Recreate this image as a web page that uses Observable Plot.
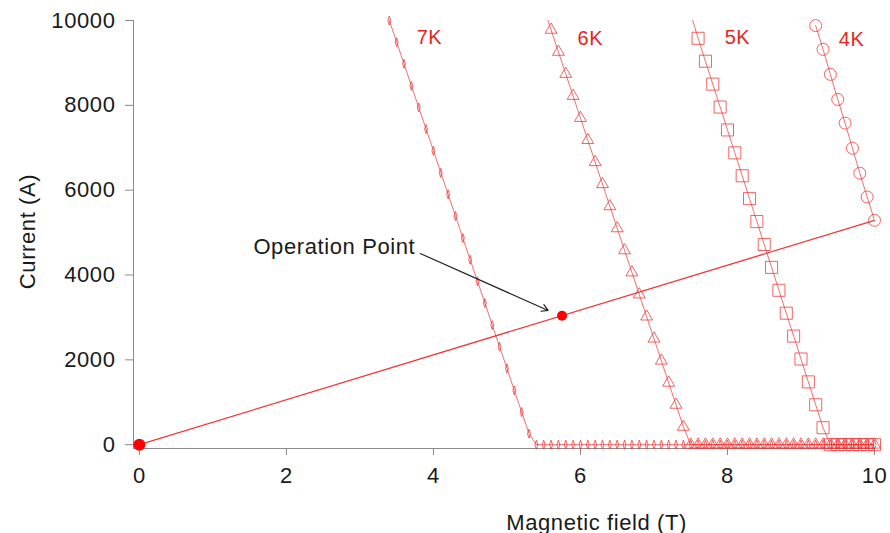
<!DOCTYPE html>
<html><head><meta charset="utf-8">
<script src="https://cdn.jsdelivr.net/npm/d3@7"></script>
<script src="https://cdn.jsdelivr.net/npm/@observablehq/plot@0.6"></script>
<style>html,body{margin:0;padding:0;background:#fff;} svg{display:block}</style>
</head><body><div id="chart"></div>
<script>
// ---- data ----
const b7 = [3.4,3.5,3.6,3.7,3.8,3.9,4.0,4.1,4.2,4.3,4.4,4.5,4.6,4.7,4.8,4.9,5.0,5.1,5.2,5.3,5.4,5.5,5.6,5.7,5.8,5.9,6.0,6.1,6.2,6.3,6.4,6.5,6.6,6.7,6.8,6.9,7.0,7.1,7.2,7.3,7.4,7.5,7.6,7.7,7.8,7.9,8.0,8.1,8.2,8.3,8.4,8.5,8.6,8.7,8.8,8.9,9.0,9.1,9.2,9.3,9.4,9.5,9.6,9.7,9.8,9.9,10.0];
const i7 = [10000,9490,8980,8460,7950,7440,6930,6410,5900,5390,4870,4360,3850,3340,2820,2310,1800,1280,770,260,0,0,0,0,0,0,0,0,0,0,0,0,0,0,0,0,0,0,0,0,0,0,0,0,0,0,0,0,0,0,0,0,0,0,0,0,0,0,0,0,0,0,0,0,0,0,0];
const b6 = [5.5,5.6,5.7,5.8,5.9,6.0,6.1,6.2,6.3,6.4,6.5,6.6,6.7,6.8,6.9,7.0,7.1,7.2,7.3,7.4,7.5,7.6,7.7,7.8,7.9,8.0,8.1,8.2,8.3,8.4,8.5,8.6,8.7,8.8,8.9,9.0,9.1,9.2,9.3,9.4,9.5,9.6,9.7,9.8,9.9,10.0];
const i6 = [10300,9780,9260,8740,8220,7700,7180,6660,6140,5620,5100,4580,4060,3540,3020,2500,1980,1460,940,420,0,0,0,0,0,0,0,0,0,0,0,0,0,0,0,0,0,0,0,0,0,0,0,0,0,0];
const b5 = [7.5,7.6,7.7,7.8,7.9,8.0,8.1,8.2,8.3,8.4,8.5,8.6,8.7,8.8,8.9,9.0,9.1,9.2,9.3,9.4,9.5,9.6,9.7,9.8,9.9,10.0];
const i5 = [10160,9580,9040,8500,7960,7420,6880,6340,5800,5260,4720,4180,3640,3100,2560,2020,1480,940,400,0,0,0,0,0,0,0];
const b4 = [9.2,9.3,9.4,9.5,9.6,9.7,9.8,9.9,10.0];
const i4 = [9880,9320,8730,8140,7580,6990,6400,5840,5290];
const loadB = [0, 10];
const loadI = [0, 5290];
const originB = 0, originI = 0;
const opB = 5.75, opI = 3040;
const xTicks = [0, 2, 4, 6, 8, 10];
const yTicks = [0, 2000, 4000, 6000, 8000, 10000];
const curveNames = ["7K", "6K", "5K", "4K"];
const curveLabelB = [3.946, 6.136, 8.136, 9.687];
const curveLabelI = [9446, 9423, 9446, 9399];
const opLabel = "Operation Point";
const opLabelB = 1.551, opLabelI = 4484;
const arrowFrom = [3.82, 4507], arrowTo = [5.56, 3164];
const xTitle = "Magnetic field (T)";
const yTitle = "Current (A)";

// ---- build ----
const rows = (b, iv, name) => b.map((x, k) => ({B: x, I: iv[k], T: name}));
const c7 = rows(b7, i7, "7K"), c6 = rows(b6, i6, "6K"), c5 = rows(b5, i5, "5K"), c4 = rows(b4, i4, "4K");
const load = rows(loadB, loadI, "load");
const visible = d => d.I <= 10000;

const thinDiamond = {
  draw(ctx, size) {
    const r = Math.sqrt(size / Math.PI);
    ctx.moveTo(0, -1.5 * r); ctx.lineTo(0.5 * r, 0); ctx.lineTo(0, 1.5 * r); ctx.lineTo(-0.5 * r, 0); ctx.closePath();
  }
};

const red = "#ee3030";
const lineOpts = {x: "B", y: "I", stroke: red, strokeOpacity: 0.7, strokeWidth: 1, clip: true};
const dotOpts = {x: "B", y: "I", stroke: red, strokeOpacity: 0.75, strokeWidth: 1, fill: "none"};
const xMin = -0.08, yMin = -90;
const axisGray = "#8a8a8a";

const chart = Plot.plot({
  width: 890, height: 533,
  marginLeft: 133, marginRight: 16, marginTop: 20, marginBottom: 85,
  x: {domain: [xMin, 10]},
  y: {domain: [yMin, 10000]},
  style: {fontFamily: "'Liberation Sans', Arial, sans-serif", fontSize: "22px", letterSpacing: "0.6px", color: "#1a1a1a", background: "#fff"},
  marks: [
    Plot.ruleX([xMin], {stroke: axisGray}),
    Plot.ruleY([yMin], {stroke: axisGray}),
    Plot.axisX({ticks: xTicks, tickSize: 7, tickPadding: 12, label: null, stroke: axisGray, fill: "#1a1a1a"}),
    Plot.axisY({ticks: yTicks, tickSize: 8, tickPadding: 10, label: null, tickFormat: d3.format("d"), stroke: axisGray, fill: "#1a1a1a"}),
    Plot.line(c7, lineOpts),
    Plot.line(c6, lineOpts),
    Plot.line(c5, lineOpts),
    Plot.line(c4, lineOpts),
    Plot.dot(c7.filter(visible), {...dotOpts, symbol: thinDiamond, r: 3}),
    Plot.dot(c6.filter(visible), {...dotOpts, symbol: "triangle", r: 4.4}),
    Plot.dot(c5.filter(visible), {...dotOpts, symbol: "square", r: 6.8}),
    Plot.dot(c4.filter(visible), {...dotOpts, symbol: "circle", r: 6}),
    Plot.line(load, {x: "B", y: "I", stroke: "#ee2222", strokeWidth: 1.3, strokeOpacity: 0.9}),
    Plot.dot([{B: originB, I: originI}], {x: "B", y: "I", r: 6, fill: "#ff0000"}),
    Plot.dot([{B: opB, I: opI}], {x: "B", y: "I", r: 5, fill: "#ff0000"}),
    Plot.arrow([{x1: arrowFrom[0], y1: arrowFrom[1], x2: arrowTo[0], y2: arrowTo[1]}], {x1: "x1", y1: "y1", x2: "x2", y2: "y2", stroke: "#222", strokeWidth: 1.2, headLength: 9}),
    Plot.text(curveNames, {x: (d, k) => curveLabelB[k], y: (d, k) => curveLabelI[k], fill: "#e52521", fontSize: 20, lineAnchor: "bottom", textAnchor: "middle"}),
    Plot.text([opLabel], {x: opLabelB, y: opLabelI, textAnchor: "start", lineAnchor: "bottom", fill: "#1a1a1a"}),
    Plot.text([xTitle], {x: 6.22, frameAnchor: "bottom", dy: 81, lineAnchor: "bottom", textAnchor: "middle", fill: "#1a1a1a"}),
    Plot.text([yTitle], {y: 5026, frameAnchor: "left", dx: -106, rotate: -90, textAnchor: "middle", lineAnchor: "middle", fill: "#1a1a1a"})
  ]
});
document.getElementById("chart").appendChild(chart);
</script>
</body></html>
